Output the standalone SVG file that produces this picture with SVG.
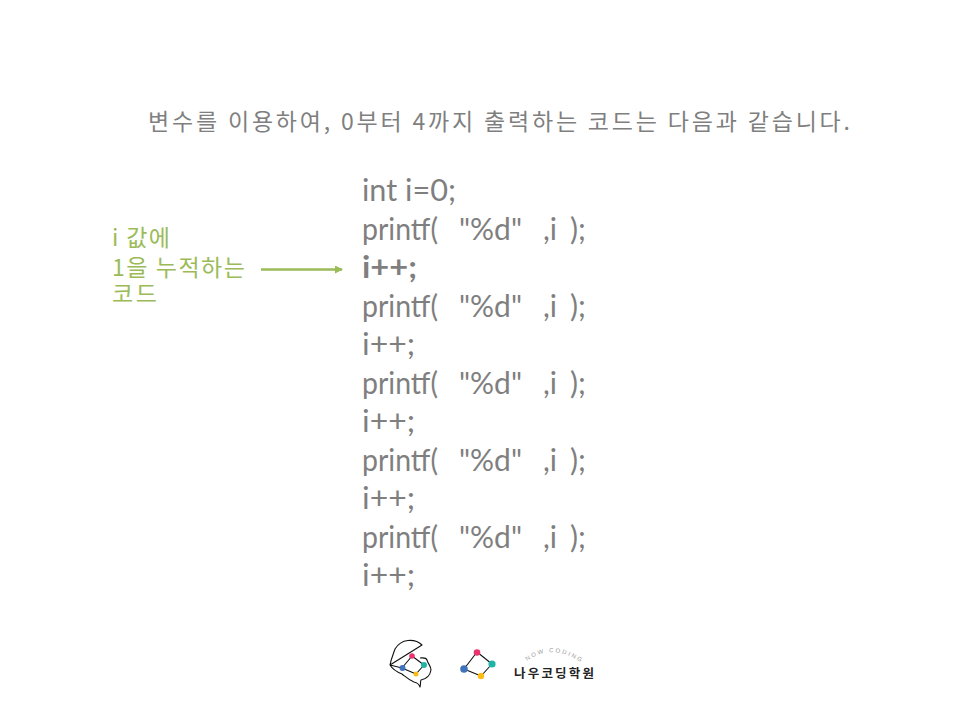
<svg xmlns="http://www.w3.org/2000/svg" width="960" height="720" viewBox="0 0 960 720">
<defs>
<style>
.t{font-family:"Noto Sans CJK KR","Noto Sans",sans-serif;}
.title{font-size:23px;fill:#7f7f7f;}
.code{font-family:Lato,"Noto Sans",sans-serif;font-size:30px;fill:#7f7f7f;}
.note{font-size:23px;fill:#9bbb59;}
.ln{stroke:#111;stroke-width:1.1;fill:none;stroke-linejoin:round;}
</style>
<marker id="ah" markerWidth="8" markerHeight="8" refX="7" refY="4" orient="auto" markerUnits="userSpaceOnUse"><path d="M0,0L8,4L0,8Z" fill="#9bbb59"/></marker>
<path id="arc" d="M527,661Q553,642 583,664"/>
</defs>
<rect width="960" height="720" fill="#fff"/>
<text id="title" class="t title" x="148" y="130" textLength="702">변수를 이용하여, 0부터 4까지 출력하는 코드는 다음과 같습니다.</text>
<g id="code">
<text class="code" x="362" y="201" textLength="94" lengthAdjust="spacingAndGlyphs">int i=0;</text>
<g id="l2"><text class="code" x="362" y="240" textLength="76" lengthAdjust="spacingAndGlyphs">printf(</text><text class="code" x="459" y="240" textLength="63" lengthAdjust="spacingAndGlyphs">"%d"</text><text class="code" x="543" y="240">,i</text><text class="code" x="570" y="240">);</text></g>
<text class="code" x="362" y="278" font-weight="700" textLength="55" lengthAdjust="spacingAndGlyphs">i++;</text>
<g id="l4"><text class="code" x="362" y="317" textLength="76" lengthAdjust="spacingAndGlyphs">printf(</text><text class="code" x="459" y="317" textLength="63" lengthAdjust="spacingAndGlyphs">"%d"</text><text class="code" x="543" y="317">,i</text><text class="code" x="570" y="317">);</text></g>
<text class="code" x="362" y="355" textLength="53" lengthAdjust="spacingAndGlyphs">i++;</text>
<g id="l6"><text class="code" x="362" y="394" textLength="76" lengthAdjust="spacingAndGlyphs">printf(</text><text class="code" x="459" y="394" textLength="63" lengthAdjust="spacingAndGlyphs">"%d"</text><text class="code" x="543" y="394">,i</text><text class="code" x="570" y="394">);</text></g>
<text class="code" x="362" y="432" textLength="53" lengthAdjust="spacingAndGlyphs">i++;</text>
<g id="l8"><text class="code" x="362" y="471" textLength="76" lengthAdjust="spacingAndGlyphs">printf(</text><text class="code" x="459" y="471" textLength="63" lengthAdjust="spacingAndGlyphs">"%d"</text><text class="code" x="543" y="471">,i</text><text class="code" x="570" y="471">);</text></g>
<text class="code" x="362" y="509" textLength="53" lengthAdjust="spacingAndGlyphs">i++;</text>
<g id="l10"><text class="code" x="362" y="548" textLength="76" lengthAdjust="spacingAndGlyphs">printf(</text><text class="code" x="459" y="548" textLength="63" lengthAdjust="spacingAndGlyphs">"%d"</text><text class="code" x="543" y="548">,i</text><text class="code" x="570" y="548">);</text></g>
<text class="code" x="362" y="586" textLength="53" lengthAdjust="spacingAndGlyphs">i++;</text>
</g>
<g id="note">
<text class="t note" x="112" y="246" textLength="58">i 값에</text>
<text class="t note" x="112" y="276" textLength="133">1을 누적하는</text>
<text class="t note" x="112" y="302" textLength="45">코드</text>
</g>
<g id="connectors"><line x1="261" y1="269.5" x2="342" y2="269.5" stroke="#9bbb59" stroke-width="2.5" marker-end="url(#ah)"/></g>
<g id="logo-brain">
<path class="ln" d="M390,665C391,659 393,655 395,649C398,644 403,641 408,640.500C414,640 419,642 422,645L390,665L402,668M390,665C393,670 397,672 402,674C406,677 409,680 414,682C418,683 419,684 420,687C421,684 420,682 421,680C426,679 430,676 431,670C431,666 428,664 427,660C426,657 423,658 420,658"/>
<path class="ln" d="M412,656L424,665L416,674L402,668Z"/>
<circle cx="412" cy="656" r="2.800" fill="#e8336d"/><circle cx="424" cy="665" r="3" fill="#1fb5a6"/><circle cx="416" cy="674" r="2.500" fill="#fbbc15"/><circle cx="402.500" cy="668" r="3" fill="#3f74bd"/>
</g>
<g id="logo-mark">
<path class="ln" stroke-width="1.500" d="M477,652L492,664L481,676L464,669Z"/>
<circle cx="477" cy="652.500" r="3.300" fill="#e8336d"/><circle cx="492" cy="664" r="3.600" fill="#1fb5a6"/><circle cx="481" cy="676" r="3.200" fill="#fbbc15"/><circle cx="464" cy="669" r="3.800" fill="#3f74bd"/>
</g>
<g id="logo-text">
<text font-family="Liberation Sans,sans-serif" font-size="6" fill="#999" letter-spacing="1.900"><textPath href="#arc">NOW CODING</textPath></text>
<text class="t" x="514" y="678" font-size="12.500" font-weight="700" fill="#222" textLength="80">나우코딩학원</text>
</g>
</svg>
